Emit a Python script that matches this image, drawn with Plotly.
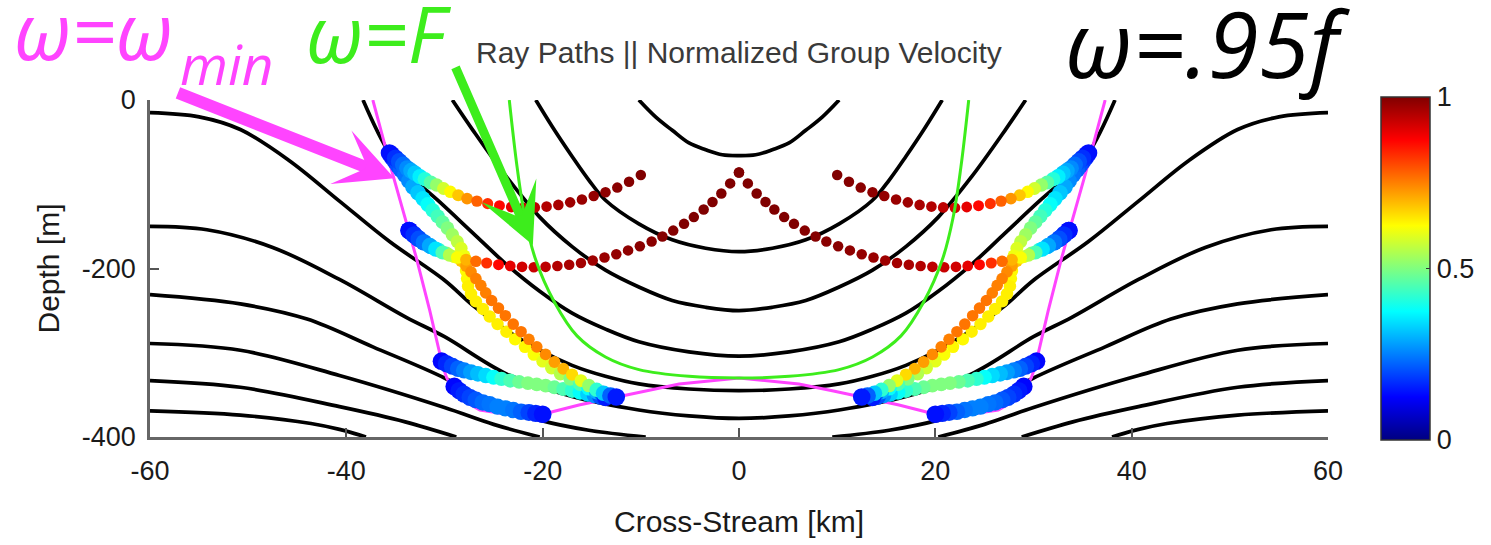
import plotly.graph_objects as go

# ---------------- isopycnals (km, m) ----------------
iso_x = {
    "c1": [-10.2, -8.5, -6.8, -5.1, -3.4, -1.7, 0, 1.7, 3.4, 5.1, 6.8, 8.5, 10.2],
    "c2": [-20.7, -19, -17, -15.3, -13.6, -10.2, -6.8, -3.4, 0, 3.4, 6.8, 10.2, 13.6, 15.3, 17, 19, 20.7],
    "c3": [-29.2, -27.1, -23.7, -20.3, -17, -13.6, -10.2, -6.8, -3.4, 0, 3.4, 6.8, 10.2, 13.6, 17, 20.3, 23.7, 27.1, 29.2],
    "c4": [-38.3, -35.6, -33.4, -30.5, -27.1, -23.7, -20.3, -17, -13.6, -10.2, -5.1, 0,
           5.1, 10.2, 13.6, 17, 20.3, 23.7, 27.1, 30.5, 33.4, 35.6, 38.3],
    "c5": [-60, -55, -50.8, -45.8, -40.7, -35.6, -30, -27.1, -23.7, -20.3, -17, -13.6, -10.2, -5.1, 0,
           5.1, 10.2, 13.6, 17, 20.3, 23.7, 27.1, 30, 35.6, 40.7, 45.8, 50.8, 55, 60],
    "c6": [-60, -54.2, -47.5, -40.7, -33.9, -30, -23.7, -17, -10.2, -5.1, 0,
           5.1, 10.2, 17, 23.7, 30, 33.9, 40.7, 47.5, 54.2, 60],
    "c7": [-60, -50.8, -44, -37.3, -30, -25.4, -20.3, -15.3, -9.5, None,
           9.5, 15.3, 20.3, 25.4, 30, 37.3, 44, 50.8, 60],
    "c8": [-60, -50.8, -40.7, -30, -25, -20.3, None, 20.3, 25, 30, 40.7, 50.8, 60],
    "c9": [-60, -50.8, -40.7, -34, -28.8, None, 28.8, 34, 40.7, 50.8, 60],
    "c10": [-60, -50.8, -43.6, -40.7, -38, None, 38, 40.7, 43.6, 50.8, 60],
}
iso_z = {
    "c1": [0, -20, -36, -51, -59, -65, -66, -65, -59, -51, -36, -20, 0],
    "c2": [0, -32, -67, -95, -119, -147, -166, -176, -180, -176, -166, -147, -119, -95, -67, -32, 0],
    "c3": [0, -36, -91, -139, -174, -202, -222, -238, -246, -250, -246, -238, -222, -202, -174, -139, -91, -36, 0],
    "c4": [0, -63, -91, -121, -158, -195, -227, -253, -272, -287, -299, -304,
           -299, -287, -272, -253, -227, -195, -158, -121, -91, -63, 0],
    "c5": [-15, -20, -35, -72, -120, -168, -214, -244, -273, -297, -315, -328, -337, -343, -345,
           -343, -337, -328, -315, -297, -273, -244, -214, -168, -120, -72, -35, -20, -15],
    "c6": [-150, -154, -175, -213, -258, -281, -325, -352, -368, -375, -378,
           -375, -368, -352, -325, -281, -258, -213, -175, -154, -150],
    "c7": [-231, -242, -260, -293, -330, -360, -380, -392, -400, None,
           -400, -392, -380, -360, -330, -293, -260, -242, -231],
    "c8": [-289, -297, -327, -365, -385, -400, None, -400, -385, -365, -327, -297, -289],
    "c9": [-333, -341, -364, -382, -400, None, -400, -382, -364, -341, -333],
    "c10": [-369, -374, -384, -391, -400, None, -400, -391, -384, -374, -369],
}

# ---------------- turning curves ----------------
wmin_x = [-37.3, -35.3, -32.9, -31.5, -30.5, -30.2, -29.8, -28.8, -26.4, -23, -20, -19, -16.3, -12.2, -9.5, -6.1, 0,
          6.1, 9.5, 12.2, 16.3, 19, 20, 23, 26.4, 28.8, 29.8, 30.2, 30.5, 31.5, 32.9, 35.3, 37.3]
wmin_z = [0, -87, -186, -250, -300, -315, -329, -352, -368, -374, -374, -370, -362, -352, -345, -337, -330,
          -337, -345, -352, -362, -370, -374, -374, -368, -352, -329, -315, -300, -250, -186, -87, 0]

wF_x = [-23.4, -22.6, -21.8, -20.7, -18.8, -16.5, -13.6, -10.2, -5.1, 0, 5.1, 10.2, 13.6, 16.5, 18.8, 20.7, 21.8, 22.6, 23.4]
wF_z = [0, -80, -140, -190, -240, -280, -305, -320, -328, -330, -328, -320, -305, -280, -240, -190, -140, -80, 0]

# ---------------- ray paths (western half; eastern half is its mirror) ----------------
rayA_x = [-35.4, -35.0, -34.6, -34.2, -33.8, -33.4, -33.0, -32.5, -32.0, -31.4, -30.8, -30.1, -29.4, -28.6,
          -27.7, -26.7, -25.6, -24.4, -23.2, -22.0, -20.8, -19.6, -18.4, -17.2, -16.0, -14.8, -13.6, -12.4, -11.2, -10.0]
rayA_z = [-65, -69, -73, -77, -81, -84, -87, -91, -94, -98, -101, -105, -109, -113,
          -117, -120, -123, -125.5, -127, -128, -127.5, -126.5, -124.5, -121.5, -118, -114, -109.5, -104, -97, -89]
rayA_v = [0.14, 0.17, 0.2, 0.23, 0.26, 0.29, 0.32, 0.36, 0.41, 0.46, 0.52, 0.58, 0.63, 0.68,
          0.73, 0.78, 0.83, 0.87, 0.9, 0.92, 0.94, 0.95, 0.96, 0.97, 0.975, 0.98, 0.985, 0.99, 0.995, 1.0]

rayB_x = [-35.6, -35.3, -35.0, -34.7, -34.4, -34.0, -33.6, -33.2, -32.7, -32.2, -31.7, -31.2, -30.7, -30.2,
          -29.7, -29.2, -28.7, -28.3, -28.0, -27.9, -27.8, -27.7, -27.6, -27.3, -26.8, -26.1, -25.4, -24.6,
          -23.7, -22.8, -21.8, -20.9, -20.0, -19.1, -18.2, -17.2, -16.2, -15.3, -14.5, -13.9, -13.6]
rayB_z = [-63, -68, -73, -78, -83, -89, -96, -103, -110, -117, -124, -131, -138, -145,
          -152, -160, -168, -176, -185, -194, -203, -212, -221, -230, -239, -248, -257, -266,
          -275, -284, -293, -302, -310, -318, -325, -331, -337, -342, -346, -349, -352]
rayB_v = [0.14, 0.16, 0.18, 0.2, 0.22, 0.24, 0.26, 0.29, 0.32, 0.35, 0.38, 0.41, 0.44, 0.47,
          0.5, 0.53, 0.56, 0.59, 0.61, 0.62, 0.63, 0.63, 0.64, 0.64, 0.64, 0.64, 0.64, 0.64,
          0.64, 0.63, 0.63, 0.62, 0.6, 0.58, 0.55, 0.5, 0.45, 0.38, 0.3, 0.22, 0.15]

rayC_x = [-33.6, -33.1, -32.6, -32.1, -31.5, -30.9, -30.2, -29.5, -28.7, -27.8, -26.8, -25.7, -24.5, -23.3,
          -22.1, -20.9, -19.7, -18.5, -17.3, -16.1, -14.9, -13.7, -12.5, -11.3, -10.1, -8.9, -7.8, -6.7,
          -5.6, -4.6, -3.6, -2.7, -1.8, -0.9, 0.0]
rayC_z = [-155, -160, -165, -169, -173, -177, -181, -184, -187, -189.5, -191.5, -193.5, -195.5, -197,
          -198, -198.5, -198, -197, -195.5, -193.5, -190.5, -187, -183, -178.5, -173.5, -168, -162, -155,
          -147, -139, -130, -121, -111, -99, -86]
rayC_v = [0.14, 0.17, 0.2, 0.24, 0.29, 0.35, 0.45, 0.55, 0.62, 0.7, 0.77, 0.83, 0.87, 0.9,
          0.92, 0.93, 0.94, 0.95, 0.96, 0.965, 0.97, 0.975, 0.98, 0.985, 0.99, 0.99, 0.995, 0.995,
          1, 1, 1, 1, 1, 1, 1]

rayD_x = [-33.6, -33.2, -32.7, -32.1, -31.4, -30.6, -29.8, -29.0, -28.3, -27.8, -27.3, -26.8, -26.3, -25.8,
          -25.2, -24.5, -23.8, -23.0, -22.2, -21.4, -20.6, -19.7, -18.8, -17.9, -17.0, -16.1, -15.3, -14.5,
          -13.8, -13.1, -12.5]
rayD_z = [-155, -159, -164, -169, -174, -178, -182, -186, -191, -197, -204, -212, -220, -229,
          -238, -247, -256, -266, -275, -284, -293, -302, -311, -319, -326, -333, -339, -344,
          -348, -351, -352.5]
rayD_v = [0.14, 0.17, 0.2, 0.25, 0.32, 0.42, 0.52, 0.6, 0.68, 0.72, 0.74, 0.75, 0.75, 0.75,
          0.76, 0.76, 0.76, 0.76, 0.76, 0.75, 0.75, 0.74, 0.72, 0.7, 0.66, 0.6, 0.52, 0.42,
          0.32, 0.22, 0.15]

rayE_x = [-30.3, -29.8, -29.2, -28.6, -28.0, -27.3, -26.6, -25.8, -25.0, -24.2, -23.3, -22.4, -21.5, -20.6,
          -19.7, -18.8, -17.9, -17.0, -16.2, -15.4, -14.7, -14.1, -13.6]
rayE_z = [-310, -313, -316, -319, -321, -323, -325, -327, -329, -331, -333, -334.5, -336, -337.5,
          -339, -341, -343, -345, -347, -349, -350.5, -352, -353]
rayE_v = [0.13, 0.16, 0.19, 0.22, 0.25, 0.28, 0.31, 0.34, 0.38, 0.42, 0.45, 0.48, 0.5, 0.5,
          0.5, 0.48, 0.45, 0.42, 0.38, 0.33, 0.27, 0.2, 0.15]

rayF_x = [-29.0, -28.5, -28.0, -27.4, -26.8, -26.1, -25.4, -24.6, -23.8, -23.0, -22.2, -21.4, -20.7, -20.0]
rayF_z = [-340, -345, -349, -353, -356, -359, -361, -364, -366, -368, -370, -371, -372, -373]
rayF_v = [0.13, 0.15, 0.17, 0.19, 0.21, 0.23, 0.24, 0.25, 0.25, 0.24, 0.22, 0.19, 0.16, 0.14]

rays = [
    (rayE_x, rayE_z, rayE_v), (rayF_x, rayF_z, rayF_v),
    (rayB_x, rayB_z, rayB_v), (rayD_x, rayD_z, rayD_v),
    (rayA_x, rayA_z, rayA_v), (rayC_x, rayC_z, rayC_v),
]

JET = [[0.0, "rgb(0,0,128)"], [0.125, "rgb(0,0,255)"], [0.375, "rgb(0,255,255)"],
       [0.625, "rgb(255,255,0)"], [0.875, "rgb(255,0,0)"], [1.0, "rgb(128,0,0)"]]

MAGENTA = "#ff44ff"
GREEN = "#3ded1c"
SANS = "Liberation Sans, Arial, sans-serif"
TICKFONT = dict(family=SANS, size=27, color="#1a1a1a")
TITLEFONT = dict(family=SANS, size=30, color="#1a1a1a")

fig = go.Figure()

for key in iso_x:
    fig.add_trace(go.Scatter(
        x=iso_x[key], y=iso_z[key], mode="lines", connectgaps=False,
        line=dict(color="black", width=3.7, shape="spline", smoothing=1.0),
        hoverinfo="skip"))

fig.add_trace(go.Scatter(x=wmin_x, y=wmin_z, mode="lines",
                         line=dict(color=MAGENTA, width=3), hoverinfo="skip"))

first = True
for rx, rz, rv in rays:
    # slow parts of a ray pile up into thick bands, fast parts stay as single dots
    sizes = [10.5 + 9 * (1 - v) ** 1.5 for v in rv]
    for sign in (1, -1):
        fig.add_trace(go.Scatter(
            x=[sign * v for v in rx], y=rz, mode="markers",
            marker=dict(color=rv, colorscale=JET, cmin=0, cmax=1, size=sizes, opacity=1,
                        line=dict(width=0), showscale=first,
                        colorbar=dict(
                            thickness=49, lenmode="pixels", len=343, x=1.0449, xanchor="left",
                            y=0.5, yanchor="middle", xpad=0, ypad=0,
                            outlinecolor="#333", outlinewidth=1.5,
                            tickvals=[0, 0.5, 1], ticktext=["0", "0.5", "1"],
                            ticks="inside", ticklen=4, tickcolor="#333",
                            tickfont=TICKFONT)),
            hoverinfo="skip"))
        first = False

fig.add_trace(go.Scatter(x=wF_x, y=wF_z, mode="lines",
                         line=dict(color=GREEN, width=3, shape="spline"), hoverinfo="skip"))

x_ticks = [-60, -40, -20, 0, 20, 40, 60]
y_ticks = [-400, -200, 0]
fig.update_xaxes(range=[-60, 60], tickvals=x_ticks, ticktext=[str(t) for t in x_ticks],
                 ticks="inside", ticklen=9, tickwidth=1.5, tickcolor="#555", ticklabelstandoff=8,
                 showline=True, linecolor="#666", linewidth=2.5,
                 showgrid=False, zeroline=False, tickfont=TICKFONT,
                 title=dict(text="Cross-Stream [km]", standoff=26, font=TITLEFONT))
fig.update_yaxes(range=[-400, 0], tickvals=y_ticks, ticktext=[str(t) for t in y_ticks],
                 ticks="inside", ticklen=9, tickwidth=1.5, tickcolor="#555", ticklabelstandoff=6,
                 showline=True, linecolor="#666", linewidth=2.5,
                 showgrid=False, zeroline=False, tickfont=TICKFONT,
                 title=dict(text="Depth [m]", standoff=14, font=TITLEFONT))

BIG = "Open Sans, DejaVu Sans, sans-serif"
annotations = [
    dict(text="Ray Paths || Normalized Group Velocity", xref="paper", yref="paper", x=0.5, y=1.142,
         xanchor="center", yanchor="middle", showarrow=False,
         font=dict(family=SANS, size=30, color="#3a3a3a")),
    dict(text="<i>ω=ω</i>", xref="paper", yref="paper", x=-0.117, y=1.0445,
         xanchor="left", yanchor="bottom", showarrow=False,
         font=dict(family=BIG, size=78, color=MAGENTA)),
    dict(text="<i>min</i>", xref="paper", yref="paper", x=0.0237, y=0.99,
         xanchor="left", yanchor="bottom", showarrow=False,
         font=dict(family=BIG, size=55, color=MAGENTA)),
    dict(text="<i>ω=F</i>", xref="paper", yref="paper", x=0.131, y=1.035,
         xanchor="left", yanchor="bottom", showarrow=False,
         font=dict(family=BIG, size=78, color=GREEN)),
    dict(text="<i>ω=.95f</i>", xref="paper", yref="paper", x=0.775, y=0.978,
         xanchor="left", yanchor="bottom", showarrow=False,
         font=dict(family=BIG, size=92, color="black")),
    dict(text="", x=-35.1, y=-93, xref="x", yref="y", ax=-218, ay=-86,
         showarrow=True, arrowhead=3, arrowsize=0.8, arrowwidth=12, arrowcolor=MAGENTA),
    dict(text="", x=-21.0, y=-172, xref="x", yref="y", ax=-78, ay=-179,
         showarrow=True, arrowhead=3, arrowsize=1.1, arrowwidth=9, arrowcolor=GREEN),
]

fig.update_layout(
    width=1491, height=545,
    margin=dict(l=150, r=161, t=100, b=108),
    plot_bgcolor="white", paper_bgcolor="white",
    showlegend=False, annotations=annotations,
)

fig.write_html("out.html")
